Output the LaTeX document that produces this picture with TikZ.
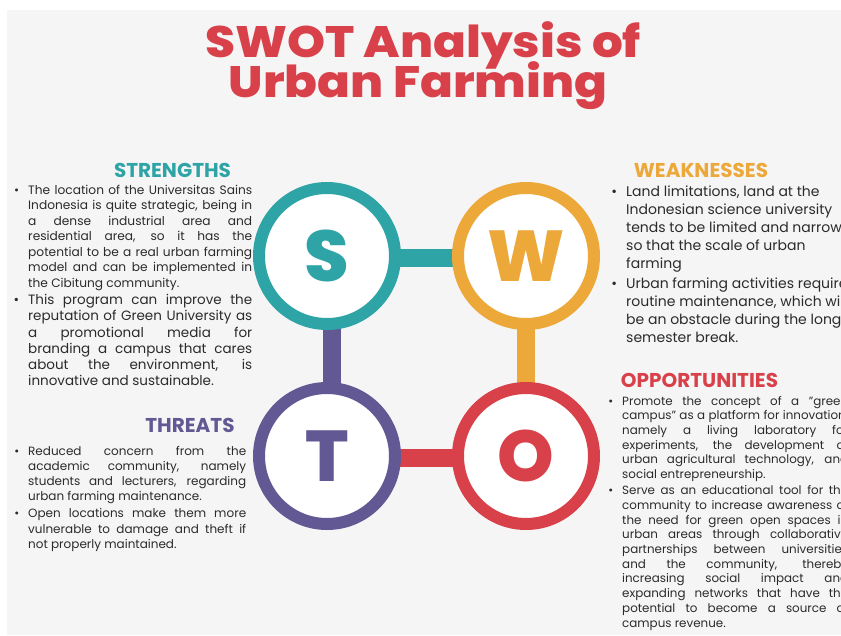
\documentclass[tikz,border=0pt]{standalone}
\usepackage{fontspec}
\setmainfont{Poppins}
\IfFontExistsTF{Poppins ExtraBold}{\newfontfamily\heavyfont{Poppins ExtraBold}}{\newfontfamily\heavyfont{Poppins}[UprightFont=*-Bold]}
\definecolor{teal}{HTML}{2FA4A7}
\definecolor{orange}{HTML}{EDA83A}
\definecolor{purple}{HTML}{625893}
\definecolor{red}{HTML}{D9414A}
\definecolor{ink}{HTML}{2B2B2B}
\definecolor{bggray}{HTML}{F5F5F5}
\pgfdeclarelayer{bottom}
\pgfdeclarelayer{bars}
\pgfsetlayers{bottom,bars,main}
\newcommand\bodyset{\rightskip=0pt\leftskip=0pt\parfillskip=0pt plus 1fil\parindent=0pt\tolerance=10000\hbadness=10000\hyphenpenalty=10000\exhyphenpenalty=10000\parskip=1.5pt\relax}
\newcommand\bul{\leavevmode\llap{•\hspace{9pt}}}
\newcommand\widen[1]{\scalebox{1.1}[1]{#1}}
\newcommand\sq{\symbol{"22}}
\tikzset{
  ring/.style={circle, line width=12pt, fill=white, minimum size=136pt, inner sep=0pt, font=\fontsize{72}{72}\heavyfont},
  bar/.style={line width=18pt},
  head/.style={font=\fontsize{20}{24}\bfseries, inner sep=0pt, anchor=base},
  titletext/.style={font=\fontsize{44}{44}\heavyfont, text=red, inner sep=0pt, anchor=base},
  body/.style={inner sep=0pt, anchor=base west, text=ink}
}
\begin{document}
\begin{tikzpicture}[x=1pt,y=-1pt]
\clip (0,0) rectangle (841,635);
\begin{pgfonlayer}{bottom}
\fill[white] (0,0) rectangle (841,635);
\fill[bggray] (7,10) rectangle (841,635);
\end{pgfonlayer}
% title
\node[titletext] (title1) at (423,57) {\widen{SWOT Analysis of}};
\node[titletext] (title2) at (418,97) {\widen{Urban Farming}};
% circles
\node[ring, draw=teal, text=teal] (S) at (327,256) {S};
\node[ring, draw=orange, text=orange] (W) at (526,256) {W};
\node[ring, draw=purple, text=purple] (T) at (327,456) {T};
\node[ring, draw=red, text=red] (O) at (526,456) {O};
\begin{pgfonlayer}{bars}
\draw[bar, teal] ([yshift=-2pt]S.center) -- ([yshift=-2pt]W.center);
\draw[bar, purple] ([xshift=5pt]S.center) -- ([xshift=5pt]T.center);
\draw[bar, orange] (W.center) -- (O.center);
\draw[bar, red] ([yshift=-2pt]T.center) -- ([yshift=-2pt]O.center);
\end{pgfonlayer}
% headers
\node[head, text=teal] (sh) at (172.5,177) {STRENGTHS};
\node[head, text=orange] (wh) at (701,177) {WEAKNESSES};
\node[head, text=purple] (th) at (190,432) {THREATS};
\node[head, text=red] (oh) at (699.5,387) {OPPORTUNITIES};
% strengths
\node[body] (sbody) at (28,194) {\begin{minipage}[t]{224pt}\bodyset
\fontsize{12.2}{15.5}\selectfont
\bul The location of the Universitas Sains\linebreak Indonesia is quite strategic, being in\linebreak a dense industrial area and\linebreak residential area, so it has the\linebreak potential to be a real urban farming\linebreak model and can be implemented in\linebreak the Cibitung community.\par
\fontsize{13.5}{16.2}\selectfont
\bul This program can improve the\linebreak reputation of Green University as\linebreak a promotional media for\linebreak branding a campus that cares\linebreak about the environment, is\linebreak innovative and sustainable.\par\end{minipage}};
% weaknesses
\node[body] (wbody) at (626,196.5) {\begin{minipage}[t]{260pt}\bodyset\raggedright
\fontsize{14}{18}\selectfont
\bul Land limitations, land at the\\ Indonesian science university\\ tends to be limited and narrow,\\ so that the scale of urban\\ farming\par
\bul Urban farming activities require\\ routine maintenance, which will\\ be an obstacle during the long\\ semester break.\par\end{minipage}};
% threats
\node[body] (tbody) at (28,455) {\begin{minipage}[t]{218pt}\bodyset
\fontsize{12}{15.3}\selectfont
\bul Reduced concern from the\linebreak academic community, namely\linebreak students and lecturers, regarding\linebreak urban farming maintenance.\par
\bul Open locations make them more\linebreak vulnerable to damage and theft if\linebreak not properly maintained.\par\end{minipage}};
% opportunities
\node[body] (obody) at (622,405) {\begin{minipage}[t]{226pt}\bodyset
\fontsize{11.9}{14.7}\selectfont
\bul Promote the concept of a \sq green\linebreak campus\sq{} as a platform for innovation,\linebreak namely a living laboratory for\linebreak experiments, the development of\linebreak urban agricultural technology, and\linebreak social entrepreneurship.\par
\bul Serve as an educational tool for the\linebreak community to increase awareness of\linebreak the need for green open spaces in\linebreak urban areas through collaborative\linebreak partnerships between universities\linebreak and the community, thereby\linebreak increasing social impact and\linebreak expanding networks that have the\linebreak potential to become a source of\linebreak campus revenue.\par\end{minipage}};
\end{tikzpicture}
\end{document}
